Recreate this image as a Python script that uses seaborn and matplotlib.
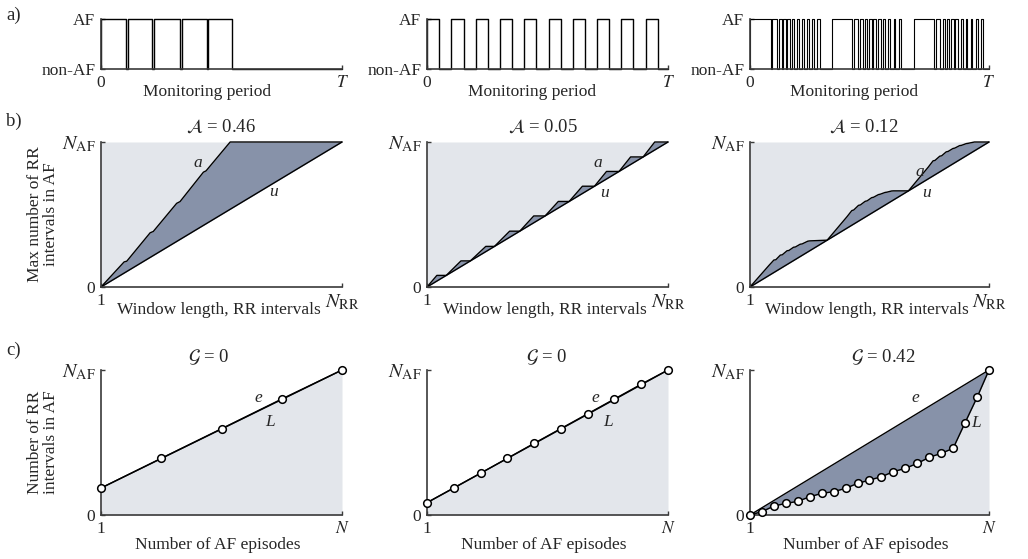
import numpy as np
import pandas as pd
import matplotlib
matplotlib.use("Agg")
import matplotlib.pyplot as plt
import seaborn as sns

sns.set_style("ticks")
plt.rcParams.update({
    "font.family": ["Liberation Serif", "DejaVu Serif"],
    "mathtext.fontset": "stix",
    "font.size": 12.5,
    "axes.linewidth": 1.2,
})
FS = 12.5

# ---------------- data ----------------
# row a) episode start / end (fraction of monitoring period T)
P1_START = [0.0, 0.113, 0.221, 0.335, 0.445]
P1_END = [0.104, 0.212, 0.327, 0.438, 0.545]
P2_START = [0.0, 0.1007, 0.2014, 0.3034, 0.4041, 0.5048, 0.6055, 0.7062, 0.8069, 0.9076]
P2_END = [0.051, 0.1517, 0.2524, 0.3531, 0.4538, 0.5545, 0.6552, 0.7559, 0.8566, 0.9586]
P3_GROUP_OFFSET = [0.0, 0.3414, 0.6856]
P3_LONG = (0.0, 0.086)
P3_SHORT_START = [0.094, 0.120, 0.139, 0.156, 0.174, 0.196, 0.217, 0.238, 0.260, 0.281]
P3_SHORT_END = [0.111, 0.132, 0.149, 0.167, 0.184, 0.206, 0.224, 0.245, 0.267, 0.291]

# row b) curve a (window length fraction of N_RR, AF fraction of N_AF)
A1_X = [0, 0.096, 0.107, 0.204, 0.217, 0.314, 0.328, 0.425, 0.436, 0.536, 1.0]
A1_Y = [0, 0.173, 0.178, 0.374, 0.383, 0.577, 0.589, 0.792, 0.801, 1.0, 1.0]
A2_LEVEL = [0.08, 0.18, 0.28, 0.385, 0.49, 0.59, 0.695, 0.797, 0.897, 1.0]
A2_RISE_END = [0.041, 0.141, 0.244, 0.343, 0.443, 0.545, 0.645, 0.745, 0.845, 0.945]
A3_X = [0, 0.080, 0.100, 0.108, 0.127, 0.135, 0.155, 0.163, 0.182, 0.190, 0.210, 0.218,
        0.242, 0.250, 0.323,
        0.406, 0.426, 0.434, 0.454, 0.462, 0.482, 0.490, 0.509, 0.517, 0.537, 0.545,
        0.565, 0.573, 0.592, 0.600, 0.663,
        0.746, 0.766, 0.774, 0.794, 0.802, 0.821, 0.829, 0.849, 0.857, 0.877, 0.885,
        0.905, 0.913, 0.939, 1.0]
A3_Y = [0, 0.150, 0.186, 0.188, 0.220, 0.222, 0.250, 0.252, 0.274, 0.276, 0.295, 0.297,
        0.316, 0.318, 0.323,
        0.485, 0.527, 0.531, 0.563, 0.566, 0.591, 0.594, 0.616, 0.619, 0.637, 0.640,
        0.652, 0.654, 0.662, 0.663, 0.663,
        0.827, 0.870, 0.873, 0.902, 0.905, 0.932, 0.935, 0.955, 0.958, 0.975, 0.977,
        0.989, 0.991, 1.0, 1.0]
U_X = [0, 1]
U_Y = [0, 1]

# row c) cumulative AF (Lorenz curve) per episode
L1 = [0.186, 0.391, 0.595, 0.80, 1.0]
L2 = [0.085, 0.186, 0.288, 0.391, 0.494, 0.596, 0.698, 0.80, 0.902, 1.0]
L3 = [0.0, 0.023, 0.062, 0.080, 0.094, 0.126, 0.149, 0.161, 0.184, 0.218, 0.241,
      0.264, 0.299, 0.322, 0.356, 0.398, 0.425, 0.460, 0.637, 0.811, 1.0]

TITLES_B = [r"$\mathcal{A}$ = 0.46", r"$\mathcal{A}$ = 0.05", r"$\mathcal{A}$ = 0.12"]
TITLES_C = [r"$\mathcal{G}$ = 0", r"$\mathcal{G}$ = 0", r"$\mathcal{G}$ = 0.42"]

# ---------------- style ----------------
LIGHT = "#e3e6eb"
DARK = "#8792a9"
SPINE = "#3a3a3a"
W, H = 1028, 559
LEFTS = [101, 427, 750]
WIDTHS = [241, 241, 239]

fig = plt.figure(figsize=(W / 100, H / 100), dpi=100)


def add_ax(i, top, bottom):
    return fig.add_axes([LEFTS[i] / W, 1 - bottom / H, WIDTHS[i] / W, (bottom - top) / H])


def style(ax, xlab, ylab, xlim=(0, 1)):
    ax.set_xlim(*xlim)
    ax.set_ylim(0, 1)
    for s in ["top", "right"]:
        ax.spines[s].set_visible(False)
    for s in ["left", "bottom"]:
        ax.spines[s].set_color(SPINE)
        ax.spines[s].set_linewidth(1.2)
    ax.set_xticks(list(xlim), xlab)
    ax.set_yticks([0, 1], ylab)
    ax.tick_params(direction="in", length=3, width=1, color=SPINE, pad=4, labelsize=FS)
    for t in ax.get_xticklabels() + ax.get_yticklabels():
        if "N_" in t.get_text():
            t.set_fontsize(14.5)
    ax.set_facecolor("none")


def line(ax, x, y, lw=1.0, **kw):
    sns.lineplot(x=x, y=y, ax=ax, color="k", lw=lw, estimator=None, sort=False,
                 clip_on=False, **kw)


def pulses(starts, ends):
    xs, ys = [0.0], [0.0]
    for s, e in zip(starts, ends):
        xs += [s, s, e, e]
        ys += [0, 1, 1, 0]
    xs.append(1.0)
    ys.append(0.0)
    return xs, ys


# ---------------- row a ----------------
p3_s, p3_e = [], []
for off in P3_GROUP_OFFSET:
    p3_s.append(off + P3_LONG[0])
    p3_e.append(off + P3_LONG[1])
    p3_s += [off + s for s in P3_SHORT_START]
    p3_e += [off + e for e in P3_SHORT_END]
pulse_sets = [(P1_START, P1_END), (P2_START, P2_END), (p3_s, p3_e)]
label_x = [0.44, 0.437, 0.437]
for i, (s, e) in enumerate(pulse_sets):
    ax = add_ax(i, 19, 69)
    style(ax, ["0", r"$T$"], ["non-AF", "AF"])
    xs, ys = pulses(s, e)
    line(ax, xs, ys, lw=1.0 if i < 2 else 0.8)
    ax.set_xlabel("Monitoring period", fontsize=FS)
    ax.xaxis.label.set_va("center")
    ax.xaxis.set_label_coords(label_x[i], -0.46)

# ---------------- row b ----------------
a2_x, a2_y = [0.0], [0.0]
for lv, r in zip(A2_LEVEL, A2_RISE_END):
    a2_x += [r, lv]
    a2_y += [lv, lv]
a2_x[-1] = 1.0
A_CURVES = [(A1_X, A1_Y), (a2_x, a2_y), (A3_X, A3_Y)]
a_lab = [(0.40, 0.855), (0.71, 0.855), (0.709, 0.79)]
u_lab = [(0.716, 0.658), (0.738, 0.651), (0.739, 0.651)]
title_b_x = [221, 543, 864]
for i, (cx, cy) in enumerate(A_CURVES):
    ax = add_ax(i, 142, 287)
    style(ax, ["1", r"$N_{\rm RR}$"], ["0", r"$N_{\rm AF}$"])
    ax.fill_between(U_X, U_Y, [1, 1], color=LIGHT, lw=0, zorder=0)
    cx_arr = np.array(cx, dtype=float)
    u_at = np.interp(cx_arr, U_X, U_Y)
    ax.fill_between(cx_arr, cy, u_at, color=DARK, lw=0, zorder=1)
    line(ax, U_X, U_Y)
    line(ax, cx, cy)
    ax.text(*a_lab[i], "a", style="italic", ha="center", va="center", fontsize=FS)
    ax.text(*u_lab[i], "u", style="italic", ha="center", va="center", fontsize=FS)
    ax.text((title_b_x[i] - LEFTS[i]) / WIDTHS[i], 1.103, TITLES_B[i], transform=ax.transAxes,
            ha="center", va="center", fontsize=13.5)
    ax.set_xlabel("Window length, RR intervals", fontsize=FS)
    ax.xaxis.label.set_va("center")
    ax.xaxis.set_label_coords(0.49, -0.159)
    if i == 0:
        ax.set_ylabel("Max number of RR\nintervals in AF", fontsize=FS, linespacing=1.0)
        ax.yaxis.label.set_va("center")
        ax.yaxis.set_label_coords(-0.241, 0.5)

# ---------------- row c ----------------
L_SETS = [L1, L2, L3]
e_lab = [(0.654, 0.805), (0.697, 0.805), (0.691, 0.805)]
l_lab = [(0.702, 0.644), (0.752, 0.644), (0.945, 0.637)]
title_c_x = [209, 547, 883]
for i, L in enumerate(L_SETS):
    n = len(L)
    ep = np.arange(1, n + 1)
    ax = add_ax(i, 370, 515)
    style(ax, ["1", r"$N$"], ["0", r"$N_{\rm AF}$"], xlim=(1, n))
    e_x = [1, n]
    e_y = [L[0], L[-1]]
    ax.fill_between(e_x, e_y, [0, 0], color=LIGHT, lw=0, zorder=0)
    e_at = np.interp(ep, e_x, e_y)
    ax.fill_between(ep, e_at, L, color=DARK, lw=0, zorder=1)
    line(ax, e_x, e_y)
    line(ax, ep, L, marker="o", markersize=5.5, markerfacecolor="white",
         markeredgecolor="k", markeredgewidth=1.1, zorder=5)
    xr = (n - 1)
    ax.text(1 + e_lab[i][0] * xr, e_lab[i][1], "e", style="italic", ha="center", va="center",
            fontsize=FS)
    ax.text(1 + l_lab[i][0] * xr, l_lab[i][1], "L", style="italic", ha="center", va="center",
            fontsize=FS)
    ax.text((title_c_x[i] - LEFTS[i]) / WIDTHS[i], 1.09, TITLES_C[i], transform=ax.transAxes,
            ha="center", va="center", fontsize=13.5)
    ax.set_xlabel("Number of AF episodes", fontsize=FS)
    ax.xaxis.label.set_va("center")
    ax.xaxis.set_label_coords(0.483, -0.207)
    if i == 0:
        ax.set_ylabel("Number of RR\nintervals in AF", fontsize=FS, linespacing=1.0)
        ax.yaxis.label.set_va("center")
        ax.yaxis.set_label_coords(-0.241, 0.5)

# panel letters
fig.text(14 / W, 1 - 15 / H, "a)", ha="center", va="center", fontsize=13.5)
fig.text(14 / W, 1 - 121 / H, "b)", ha="center", va="center", fontsize=13.5)
fig.text(14 / W, 1 - 350 / H, "c)", ha="center", va="center", fontsize=13.5)

fig.savefig("out.png", dpi=100)
